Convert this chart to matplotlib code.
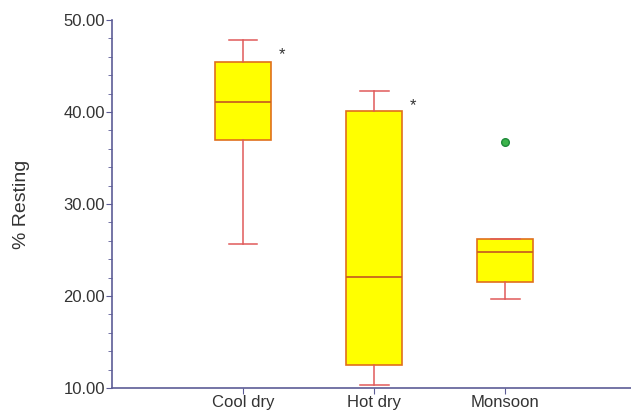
import matplotlib
matplotlib.use("Agg")
import matplotlib.pyplot as plt
from matplotlib.ticker import MultipleLocator, FormatStrFormatter

# Summary statistics per season (% time resting)
seasons = ["Cool dry", "Hot dry", "Monsoon"]
whisker_low = [25.7, 10.3, 19.7]
q1 = [37.0, 12.5, 21.5]
median = [41.1, 22.1, 24.8]
q3 = [45.4, 40.1, 26.2]
whisker_high = [47.8, 42.3, 26.2]
outliers = [[], [], [36.7]]
# seasons flagged as significantly different
flagged = [True, True, False]

plt.rcParams['font.family'] = ['Liberation Sans', 'DejaVu Sans']

fig = plt.figure(figsize=(6.31, 4.15), dpi=100)
ax = fig.add_axes([0.1775, 0.065, 0.8225, 0.887])

stats = []
for i, name in enumerate(seasons):
    stats.append(dict(label=name, whislo=whisker_low[i], q1=q1[i], med=median[i],
                      q3=q3[i], whishi=whisker_high[i], fliers=outliers[i]))

positions = list(range(1, len(seasons) + 1))
ax.bxp(stats, positions=positions, widths=0.43, patch_artist=True,
       boxprops=dict(facecolor='#ffff00', edgecolor='#e0701c', linewidth=1.2),
       medianprops=dict(color='#c8641e', linewidth=1.3),
       whiskerprops=dict(color='#e05a5a', linewidth=1.1),
       capprops=dict(color='#e05a5a', linewidth=1.1),
       capwidths=0.22,
       flierprops=dict(marker='o', markersize=5.5, markerfacecolor='#3cb44b',
                       markeredgecolor='#1f8a3a'))

for pos, top, flag in zip(positions, whisker_high, flagged):
    if flag:
        ax.text(pos + 0.3, top - 1.6, '*', ha='center', va='center',
                fontsize=12, color='#333333')

ax.set_xlim(0, 3.96)
ax.set_ylim(10, 50)
ax.yaxis.set_major_locator(MultipleLocator(10))
ax.yaxis.set_minor_locator(MultipleLocator(2))
ax.yaxis.set_major_formatter(FormatStrFormatter('%.2f'))
ax.set_xticks(positions)
ax.set_xticklabels(seasons)

axis_color = '#5c5c96'
for side in ['top', 'right']:
    ax.spines[side].set_visible(False)
for side in ['left', 'bottom']:
    ax.spines[side].set_color(axis_color)
    ax.spines[side].set_linewidth(1.2)

ax.tick_params(axis='y', which='major', length=4, color=axis_color,
               labelsize=12, labelcolor='#333333', pad=1)
ax.tick_params(axis='y', which='minor', length=3, color=axis_color)
ax.tick_params(axis='x', length=4, color=axis_color, labelsize=12,
               labelcolor='#333333', pad=1)

ax.set_ylabel('% Resting', fontsize=14, color='#333333', labelpad=24)

fig.savefig('out.png', dpi=100)
